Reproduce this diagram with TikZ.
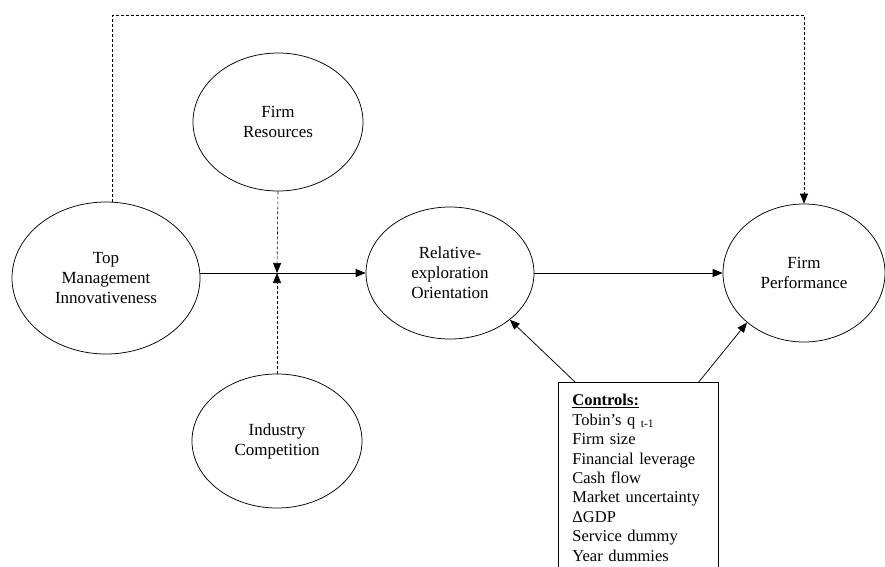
\documentclass[tikz,border=0pt]{standalone}
\usepackage{fontspec}
\setmainfont{Liberation Serif}
\usetikzlibrary{shapes.geometric,arrows.meta}
\tikzset{every picture/.style={line width=0.75pt}}
\tikzset{
  construct/.style={draw, ellipse, inner sep=0pt, align=center, font=\fontsize{17}{20}\selectfont},
  tip/.style={-{Triangle[length=10pt,width=8pt]}},
  dashlink/.style={tip, dash pattern=on 3pt off 2pt, line width=0.6pt},
}

\begin{document}
\begin{tikzpicture}[x=1pt,y=-1pt]
\useasboundingbox (0,0) rectangle (885,566);
\clip (0,0) rectangle (885,566);

%Shape: Ellipses
\node[construct, minimum width=188pt, minimum height=152pt] (TMI) at (106,278) {Top\\Management\\Innovativeness};
\node[construct, minimum width=170pt, minimum height=138pt] (FR) at (278,122) {Firm\\Resources};
\node[construct, minimum width=170pt, minimum height=134pt] (IC) at (277,441) {Industry\\Competition};
\node[construct, minimum width=168pt, minimum height=132pt] (REO) at (450,273) {Relative-\\exploration\\Orientation};
\node[construct, minimum width=162pt, minimum height=138pt] (FP) at (804,273) {Firm\\Performance};

%Shape: Controls box
\node[draw, anchor=north west, text width=132pt, inner xsep=14pt, inner ysep=12pt, align=left,
      font=\fontsize{16.5}{19.4}\selectfont] (ctrl) at (558,382)
  {\underline{\textbf{Controls:}}\\
   Tobin’s q \textsubscript{t-1}\\
   Firm size\\
   Financial leverage\\
   Cash flow\\
   Market uncertainty\\
   ΔGDP\\
   Service dummy\\
   Year dummies};

\coordinate (mod) at (277,273);
\coordinate (ceil) at (0,15);

%Straight Lines
\draw[tip] (mod -| TMI.east) -- (REO.west);
\draw[dashlink] (FR.south) -- (mod);
\draw[dashlink] (IC.north) -- (mod);
\draw[tip] (REO.east) -- (FP.west);
\draw[dashlink] (TMI.85) |- (ceil -| FP.north) -- (FP.north);
\draw[tip] ([xshift=17pt]ctrl.north west) -- (REO.-38);
\draw[tip] ([xshift=-20pt]ctrl.north east) -- (FP.-139);

\end{tikzpicture}
\end{document}
